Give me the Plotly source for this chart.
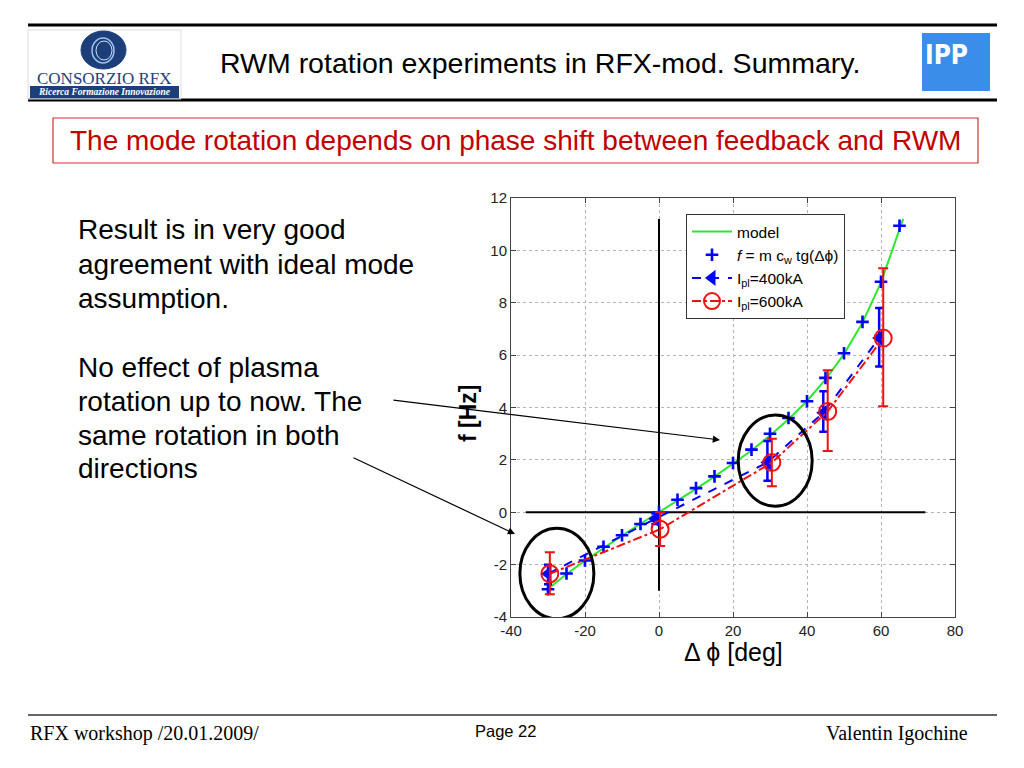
import plotly.graph_objects as go

# ---------------- data ----------------
model_phi = [-30, -25, -20, -15, -10, -5, 0, 5, 10, 15, 20, 25, 30, 35, 40, 45, 50, 55, 60, 63, 66]
model_f = [-2.93, -2.36, -1.85, -1.36, -0.89, -0.44, 0.0, 0.44, 0.89, 1.36, 1.85, 2.36, 2.93,
           3.55, 4.25, 5.07, 6.04, 7.24, 8.78, 9.95, 11.2]

calc_phi = [-30, -25, -20, -15, -10, -5, 0, 5, 10, 15, 20, 25, 30, 35, 40, 45, 50, 55, 60, 65]
calc_f = [-2.94, -2.34, -1.84, -1.32, -0.88, -0.45, 0.0, 0.48, 0.92, 1.37, 1.88, 2.39, 3.0,
          3.6, 4.24, 5.13, 6.07, 7.27, 8.8, 10.94]

i400_phi = [-30.0, -1.0, 29.3, 44.4, 59.5]
i400_f = [-2.35, -0.25, 1.9, 3.8, 6.65]
i400_lo = [-2.75, -0.45, 1.2, 3.07, 5.57]
i400_hi = [-2.0, -0.05, 2.72, 4.62, 7.8]

i600_phi = [-29.5, 0.3, 30.5, 45.6, 60.6]
i600_f = [-2.35, -0.65, 1.9, 3.85, 6.65]
i600_lo = [-3.13, -1.29, 0.99, 2.34, 4.05]
i600_hi = [-1.53, 0.0, 2.81, 5.42, 9.32]

x_ticks = [-40, -20, 0, 20, 40, 60, 80]
x_tick_labels = ["-40", "-20", "0", "20", "40", "60", "80"]
y_ticks = [-4, -2, 0, 2, 4, 6, 8, 10, 12]
y_tick_labels = ["-4", "-2", "0", "2", "4", "6", "8", "10", "12"]

legend_names = ["model", "<i>f</i> = m c<sub>w</sub> tg(Δϕ)", "I<sub>pl</sub>=400kA", "I<sub>pl</sub>=600kA"]

# ---------------- geometry helpers (page pixels -> paper) ----------------
O = 8                      # default body margin of the html page
W, H = 1024 - 2 * O, 768 - 2 * O
L, R, T, B = 511, 955, 198, 617   # plot area in page pixels


def px(x):
    return (x - L) / (R - L)


def py(y):
    return (B - y) / (B - T)


GREEN = "#2ee62e"
BLUE = "#0000ff"
RED = "#ee1111"
SANS = "Liberation Sans, Arial, Helvetica, sans-serif"
SERIF = "Liberation Serif, Times New Roman, serif"

fig = go.Figure()

fig.add_trace(go.Scatter(x=model_phi, y=model_f, mode="lines", name=legend_names[0],
                         line=dict(color=GREEN, width=2)))
fig.add_trace(go.Scatter(x=calc_phi, y=calc_f, mode="markers", name=legend_names[1],
                         marker=dict(symbol="cross-thin", size=9, line=dict(color=BLUE, width=2.6))))
fig.add_trace(go.Scatter(
    x=i400_phi, y=i400_f, mode="lines+markers", name=legend_names[2],
    line=dict(color=BLUE, width=2, dash="dash"),
    marker=dict(symbol="triangle-left", size=14, color=BLUE),
    error_y=dict(type="data", symmetric=False,
                 array=[h - f for h, f in zip(i400_hi, i400_f)],
                 arrayminus=[f - lo for lo, f in zip(i400_lo, i400_f)],
                 color=BLUE, thickness=2.5, width=4)))
fig.add_trace(go.Scatter(
    x=i600_phi, y=i600_f, mode="lines+markers", name=legend_names[3],
    line=dict(color=RED, width=2, dash="dashdot"),
    marker=dict(symbol="circle-open", size=17, color=RED, line=dict(width=2)),
    error_y=dict(type="data", symmetric=False,
                 array=[h - f for h, f in zip(i600_hi, i600_f)],
                 arrayminus=[f - lo for lo, f in zip(i600_lo, i600_f)],
                 color=RED, thickness=2, width=5)))

shapes = []
# cross-hair lines in the plot
shapes.append(dict(type="line", xref="x", yref="y", x0=0, x1=0, y0=-3.0, y1=11.2,
                   line=dict(color="black", width=2), layer="between"))
shapes.append(dict(type="line", xref="x", yref="y", x0=-36, x1=72, y0=0, y1=0,
                   line=dict(color="black", width=2), layer="between"))
# highlight ellipses
shapes.append(dict(type="circle", xref="x", yref="y", x0=-37.6, x1=-17.6, y0=-4.07, y1=-0.61,
                   line=dict(color="black", width=3)))
shapes.append(dict(type="circle", xref="x", yref="y", x0=21.4, x1=41.4, y0=0.23, y1=3.71,
                   line=dict(color="black", width=3)))

# page decoration
shapes.append(dict(type="line", xref="paper", yref="paper", x0=px(28), x1=px(997), y0=py(25), y1=py(25),
                   line=dict(color="black", width=3)))
shapes.append(dict(type="line", xref="paper", yref="paper", x0=px(28), x1=px(997), y0=py(100), y1=py(100),
                   line=dict(color="black", width=3)))
shapes.append(dict(type="line", xref="paper", yref="paper", x0=px(28), x1=px(997), y0=py(715), y1=py(715),
                   line=dict(color="#333333", width=1.5)))
# red box
shapes.append(dict(type="rect", xref="paper", yref="paper", x0=px(53), x1=px(978), y0=py(163), y1=py(118),
                   line=dict(color="#d03030", width=1.2)))
# consorzio logo
shapes.append(dict(type="rect", xref="paper", yref="paper", x0=px(28), x1=px(181), y0=py(99), y1=py(30),
                   line=dict(color="#dddddd", width=1)))
shapes.append(dict(type="circle", xref="paper", yref="paper", x0=px(81), x1=px(126), y0=py(69), y1=py(31),
                   fillcolor="#1c3f7c", line=dict(color="#1c3f7c", width=1)))
shapes.append(dict(type="circle", xref="paper", yref="paper", x0=px(92), x1=px(114), y0=py(63), y1=py(38),
                   line=dict(color="#9fc4ee", width=1.5)))
shapes.append(dict(type="circle", xref="paper", yref="paper", x0=px(96), x1=px(112), y0=py(60), y1=py(41),
                   line=dict(color="#cfe2f7", width=1)))
shapes.append(dict(type="rect", xref="paper", yref="paper", x0=px(30), x1=px(179), y0=py(98), y1=py(86),
                   fillcolor="#1c3f7c", line=dict(width=0)))
# IPP logo
shapes.append(dict(type="rect", xref="paper", yref="paper", x0=px(922), x1=px(990), y0=py(91), y1=py(33),
                   fillcolor="#3a8de8", line=dict(width=0)))

ann = []


def text(x, y, s, size, color="black", family=SANS, xanchor="left", **kw):
    ann.append(dict(x=px(x), y=py(y), xref="paper", yref="paper", text=s, showarrow=False,
                    xanchor=xanchor, yanchor="middle",
                    font=dict(size=size, color=color, family=family), **kw))


text(540, 63, "RWM rotation experiments in RFX-mod. Summary.", 28.5, xanchor="center")
text(515, 141, "The mode rotation depends on phase shift between feedback and RWM", 28,
     color="#c00000", xanchor="center")
for yy, s in zip([229, 264, 298], ["Result is in very good", "agreement with ideal mode", "assumption."]):
    text(76, yy, s, 28)
for yy, s in zip([367, 401, 435, 468],
                 ["No effect of plasma", "rotation up to now. The", "same rotation in both", "directions"]):
    text(76, yy, s, 28)
text(28, 733, "RFX workshop /20.01.2009/", 20, family=SERIF)
text(505, 731, "Page 22", 16.5, xanchor="center")
text(970, 733, "Valentin Igochine", 20, family=SERIF, xanchor="right")
text(104, 78, "CONSORZIO RFX", 17, color="#1c3f7c", family=SERIF, xanchor="center")
text(104, 92, "<b><i>Ricerca Formazione Innovazione</i></b>", 9.5, color="white", family=SERIF,
     xanchor="center")
text(946, 55, "<b>IPP</b>", 26, color="white",
     family="Liberation Sans Narrow, DejaVu Sans Condensed, Roboto Condensed, sans-serif",
     xanchor="center")
# axis titles
text(468, 414, "<b>f [Hz]</b>", 23, xanchor="center", textangle=-90)
text(733, 652, "Δ ϕ [deg]", 25, xanchor="center")

# arrows
ann.append(dict(x=px(720), y=py(440), xref="paper", yref="paper", ax=392 - 720, ay=400 - 440,
                axref="pixel", ayref="pixel", showarrow=True, arrowhead=2, arrowsize=1.2,
                arrowwidth=1.2, arrowcolor="black", text=""))
ann.append(dict(x=px(515), y=py(534), xref="paper", yref="paper", ax=352 - 515, ay=457 - 534,
                axref="pixel", ayref="pixel", showarrow=True, arrowhead=2, arrowsize=1.2,
                arrowwidth=1.2, arrowcolor="black", text=""))

axis_common = dict(showgrid=True, gridcolor="#b5b5b5", griddash="dot", gridwidth=1,
                   zeroline=False, showline=True, linecolor="#444444", linewidth=1, mirror="ticks",
                   ticks="inside", ticklen=5, tickcolor="#444444",
                   tickfont=dict(size=15, color="#222222", family=SANS))

fig.update_layout(
    width=W, height=H,
    margin=dict(l=L - O, r=W - (R - O), t=T - O, b=H - (B - O), pad=0),
    paper_bgcolor="white", plot_bgcolor="white",
    xaxis=dict(range=[-40, 80], tickvals=x_ticks, ticktext=x_tick_labels, **axis_common),
    yaxis=dict(range=[-4, 12], tickvals=y_ticks, ticktext=y_tick_labels, **axis_common),
    showlegend=True,
    legend=dict(x=px(686), y=py(214), xanchor="left", yanchor="top", bgcolor="white",
                bordercolor="#333333", borderwidth=1, font=dict(size=15.5, family=SANS, color="black"),
                itemwidth=40),
    shapes=shapes, annotations=ann,
)

fig.write_html("out.html")
